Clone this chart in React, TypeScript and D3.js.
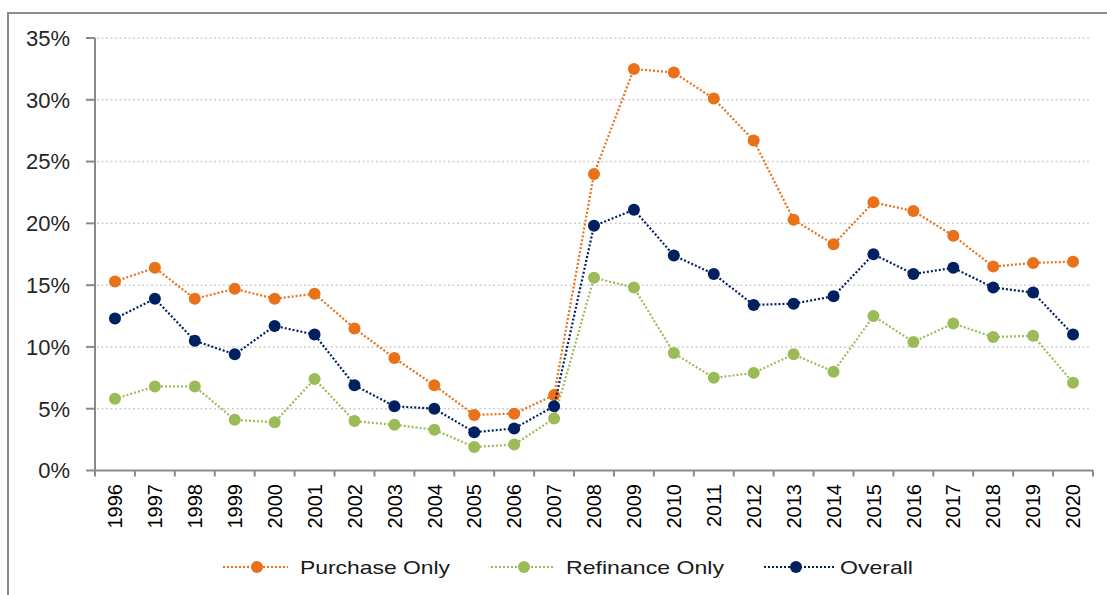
import React, { useEffect, useRef } from 'react';
import * as d3 from 'd3';

const width = 1107;
const height = 595;

// data (percent)
const years = ['1996', '1997', '1998', '1999', '2000', '2001', '2002', '2003', '2004', '2005', '2006', '2007', '2008',
  '2009', '2010', '2011', '2012', '2013', '2014', '2015', '2016', '2017', '2018', '2019', '2020'];
const purchaseOnly = [15.3, 16.4, 13.9, 14.7, 13.9, 14.3, 11.5, 9.1, 6.9, 4.5, 4.6, 6.1, 24.0,
  32.5, 32.2, 30.1, 26.7, 20.3, 18.3, 21.7, 21.0, 19.0, 16.5, 16.8, 16.9];
const refinanceOnly = [5.8, 6.8, 6.8, 4.1, 3.9, 7.4, 4.0, 3.7, 3.3, 1.9, 2.1, 4.2, 15.6,
  14.8, 9.5, 7.5, 7.9, 9.4, 8.0, 12.5, 10.4, 11.9, 10.8, 10.9, 7.1];
const overall = [12.3, 13.9, 10.5, 9.4, 11.7, 11.0, 6.9, 5.2, 5.0, 3.1, 3.4, 5.2, 19.8,
  21.1, 17.4, 15.9, 13.4, 13.5, 14.1, 17.5, 15.9, 16.4, 14.8, 14.4, 11.0];
const yTicks = [0, 5, 10, 15, 20, 25, 30, 35];

const seriesNames = ['Purchase Only', 'Refinance Only', 'Overall'];
const seriesValues = [purchaseOnly, refinanceOnly, overall];
const seriesColors = ['#E8711A', '#9BBB59', '#002060'];

const Chart = () => {
  const svgRef = useRef<SVGSVGElement>(null);

  useEffect(() => {
    const svg = d3.select(svgRef.current);
    svg.selectAll('*').remove();

    const x = d3.scaleBand().domain(years).range([95, 1093]);
    const y = d3.scaleLinear().domain([0, 35]).range([470.5, 38]);
    const axisColor = '#8a8a8a';

    // outer frame (only top and left edges are in view)
    svg.append('path')
      .attr('d', `M8,${height} V13 H${width}`)
      .attr('fill', 'none')
      .attr('stroke', '#8c8c8c')
      .attr('stroke-width', 2);

    // gridlines
    svg.append('g')
      .selectAll('line')
      .data(yTicks.filter(t => t > 0))
      .join('line')
        .attr('x1', 97)
        .attr('x2', 1091)
        .attr('y1', d => y(d))
        .attr('y2', d => y(d))
        .attr('stroke', '#cfcfcf')
        .attr('stroke-width', 1.5)
        .attr('stroke-dasharray', '2,2.5');

    // y axis
    const yAxis = svg.append('g');
    yAxis.append('line')
      .attr('x1', 95).attr('x2', 95)
      .attr('y1', y(35)).attr('y2', y(0))
      .attr('stroke', axisColor).attr('stroke-width', 2);
    yAxis.selectAll('line.tick')
      .data(yTicks)
      .join('line')
        .attr('class', 'tick')
        .attr('x1', 86).attr('x2', 95)
        .attr('y1', d => y(d)).attr('y2', d => y(d))
        .attr('stroke', axisColor).attr('stroke-width', 2);
    yAxis.selectAll('text')
      .data(yTicks)
      .join('text')
        .attr('x', 70)
        .attr('y', d => y(d))
        .attr('dy', '0.36em')
        .attr('text-anchor', 'end')
        .style('font-family', '"Liberation Sans", Arial, sans-serif')
        .style('font-size', '22px')
        .style('fill', '#262626')
        .text(d => `${d}%`);

    // x axis
    const xAxis = svg.append('g');
    xAxis.append('line')
      .attr('x1', 95).attr('x2', 1093)
      .attr('y1', y(0)).attr('y2', y(0))
      .attr('stroke', axisColor).attr('stroke-width', 2);
    const bounds = years.map(d => x(d) as number).concat([x.range()[1]]);
    xAxis.selectAll('line.tick')
      .data(bounds)
      .join('line')
        .attr('class', 'tick')
        .attr('x1', d => d).attr('x2', d => d)
        .attr('y1', y(0)).attr('y2', y(0) + 6)
        .attr('stroke', axisColor).attr('stroke-width', 2);
    xAxis.selectAll('text')
      .data(years)
      .join('text')
        .attr('transform', d => `translate(${(x(d) as number) + x.bandwidth() / 2},484) rotate(-90)`)
        .attr('dy', '0.36em')
        .attr('text-anchor', 'end')
        .style('font-family', '"Liberation Sans", Arial, sans-serif')
        .style('font-size', '20px')
        .style('fill', '#000')
        .text(d => d);

    // series
    const line = d3.line<number>()
      .x((_, i) => (x(years[i]) as number) + x.bandwidth() / 2)
      .y(d => y(d));

    seriesValues.forEach((values, si) => {
      const g = svg.append('g');
      g.append('path')
        .datum(values)
        .attr('d', line)
        .attr('fill', 'none')
        .attr('stroke', seriesColors[si])
        .attr('stroke-width', 2.2)
        .attr('stroke-dasharray', '2,2');
      g.selectAll('circle')
        .data(values)
        .join('circle')
          .attr('cx', (_, i) => (x(years[i]) as number) + x.bandwidth() / 2)
          .attr('cy', d => y(d))
          .attr('r', 6)
          .attr('fill', seriesColors[si]);
    });

    // legend
    const legendItems = [
      { x1: 223, x2: 288, cx: 257, tx: 300, tw: 150 },
      { x1: 491, x2: 554, cx: 524, tx: 566, tw: 158 },
      { x1: 764, x2: 836, cx: 796, tx: 840, tw: 73 }
    ];
    const legend = svg.append('g');
    legendItems.forEach((it, i) => {
      legend.append('line')
        .attr('x1', it.x1).attr('x2', it.x2)
        .attr('y1', 567).attr('y2', 567)
        .attr('stroke', seriesColors[i])
        .attr('stroke-width', 2)
        .attr('stroke-dasharray', '2,2');
      legend.append('circle')
        .attr('cx', it.cx).attr('cy', 567).attr('r', 6)
        .attr('fill', seriesColors[i]);
      legend.append('text')
        .attr('x', it.tx)
        .attr('y', 574)
        .attr('textLength', it.tw)
        .attr('lengthAdjust', 'spacingAndGlyphs')
        .style('font-family', '"Liberation Sans", Arial, sans-serif')
        .style('font-size', '19px')
        .style('fill', '#1a1a1a')
        .text(seriesNames[i]);
    });
  }, []);

  return <svg ref={svgRef} width={width} height={height} style={{ display: 'block' }} />;
};

export default function App() {
  return (
    <div style={{ position: 'absolute', left: 0, top: 0, background: '#fff' }}>
      <Chart />
    </div>
  );
}
